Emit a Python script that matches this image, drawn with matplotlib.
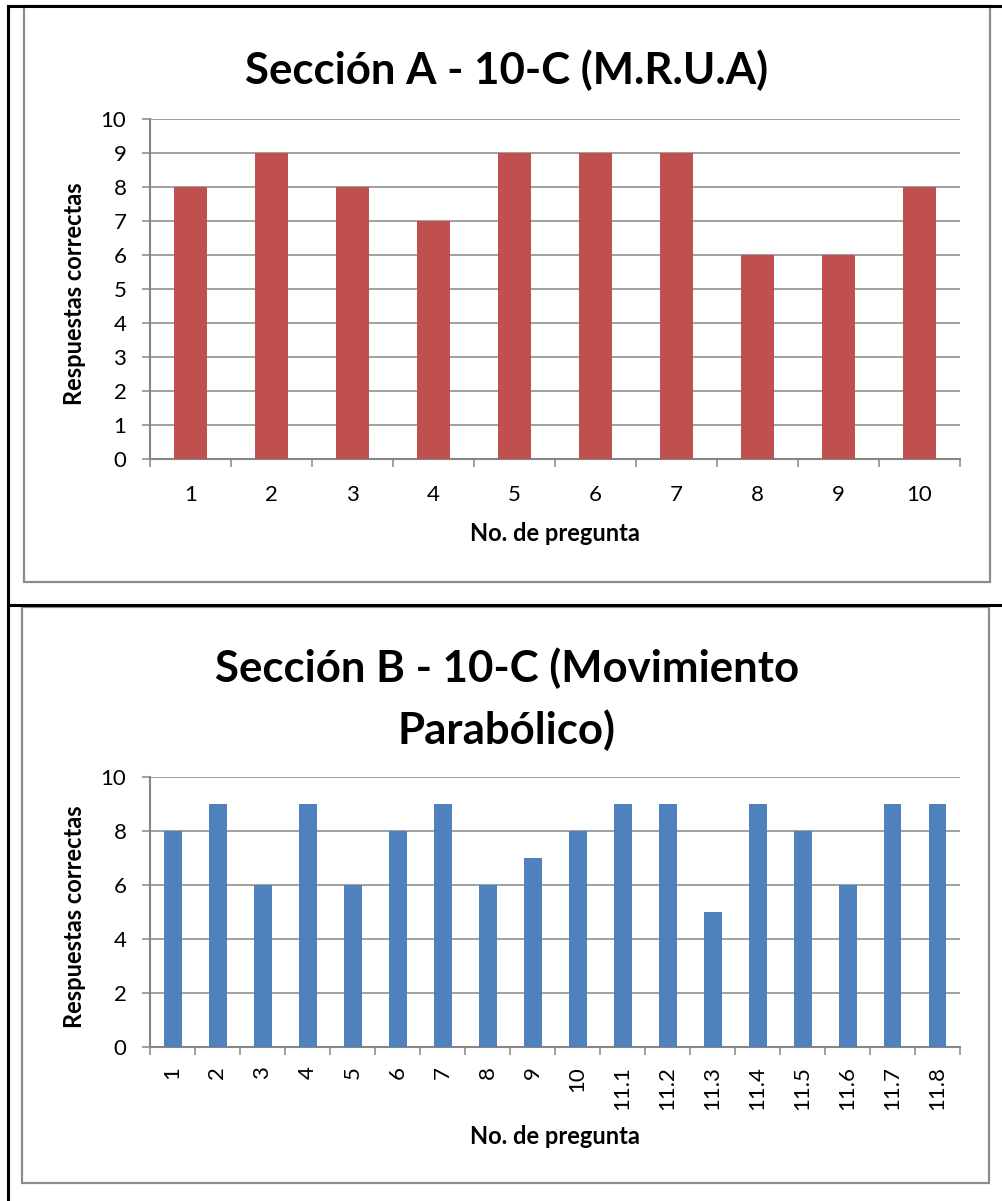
from matplotlib import pyplot as plt
from matplotlib.lines import Line2D
from matplotlib.patches import Rectangle

W, H = 1003, 1201

preguntas_a = ['1', '2', '3', '4', '5', '6', '7', '8', '9', '10']
correctas_a = [8, 9, 8, 7, 9, 9, 9, 6, 6, 8]

preguntas_b = ['1', '2', '3', '4', '5', '6', '7', '8', '9', '10',
               '11.1', '11.2', '11.3', '11.4', '11.5', '11.6', '11.7', '11.8']
correctas_b = [8, 9, 6, 9, 6, 8, 9, 6, 7, 8, 9, 9, 5, 9, 8, 6, 9, 9]

ROJO = '#C0504D'
AZUL = '#4F81BD'
GRIS = '#868686'

plt.rcParams['font.family'] = ['Lato', 'DejaVu Sans']


def px(x, y):
    # pixel coords (top-left origin) -> figure fraction
    return x / W, 1 - y / H


def add_box(fig, x0, y0, x1, y1):
    fig.patches.append(Rectangle(px(x0, y1), (x1 - x0) / W, (y1 - y0) / H,
                                 transform=fig.transFigure, fill=False,
                                 edgecolor='#8C8C8C', linewidth=1.6))


def hline(fig, x0, x1, y, color='black', lw=2):
    a, b = px(x0, y)
    c, _ = px(x1, y)
    fig.lines.append(Line2D([a, c], [b, b], transform=fig.transFigure, color=color, linewidth=lw))


def vline(fig, x, y0, y1, color='black', lw=2):
    a, b = px(x, y0)
    _, d = px(x, y1)
    fig.lines.append(Line2D([a, a], [b, d], transform=fig.transFigure, color=color, linewidth=lw))


def bar_chart(fig, rect, names, values, color, yticks, rotate):
    left, top, right, bottom = rect
    ax = fig.add_axes([left / W, 1 - bottom / H, (right - left) / W, (bottom - top) / H])
    n = len(names)
    pos = list(range(n))
    ax.bar(pos, values, width=0.4, color=color, zorder=3)
    ax.set_xlim(-0.5, n - 0.5)
    ax.set_ylim(0, yticks[-1])
    ax.set_yticks(yticks)
    ax.grid(axis='y', color=GRIS, linewidth=1.1, zorder=0)
    for s in ['top', 'right']:
        ax.spines[s].set_visible(False)
    for s in ['left', 'bottom']:
        ax.spines[s].set_color(GRIS)
        ax.spines[s].set_linewidth(1.5)
    ax.tick_params(axis='y', length=6, width=1.1, color=GRIS, pad=11, labelsize=16)
    ax.set_xticks(pos)
    ax.set_xticklabels(names, rotation=90 if rotate else 0)
    ax.tick_params(axis='x', which='major', length=0, pad=19 if not rotate else 14, labelsize=16)
    ax.set_xticks([k - 0.5 for k in range(n + 1)], minor=True)
    ax.tick_params(axis='x', which='minor', length=6, width=1.1, color=GRIS)
    return ax


fig = plt.figure(figsize=(W / 100, H / 100), dpi=100)

# page table lines
hline(fig, 8, W, 6, lw=2.2)
vline(fig, 8, 6, H, lw=2.2)
hline(fig, 8, W, 605, lw=2.2)

# chart frames
add_box(fig, 24, 6, 990, 582)
add_box(fig, 22, 607, 989, 1183)

# Sección A
bar_chart(fig, (150, 119, 960, 459), preguntas_a, correctas_a, ROJO, list(range(0, 11)), False)
fig.text(*px(507, 70), 'Sección A - 10-C (M.R.U.A)', ha='center', va='center',
         fontsize=31.5, fontweight='bold')
fig.text(*px(75, 294), 'Respuestas correctas', ha='center', va='center',
         rotation=90, fontsize=17, fontweight='bold')
fig.text(*px(555, 533), 'No. de pregunta', ha='center', va='center',
         fontsize=17, fontweight='bold')

# Sección B
bar_chart(fig, (150, 777, 960, 1047), preguntas_b, correctas_b, AZUL, list(range(0, 11, 2)), True)
fig.text(*px(507, 668), 'Sección B - 10-C (Movimiento', ha='center', va='center',
         fontsize=31.5, fontweight='bold')
fig.text(*px(507, 730), 'Parabólico)', ha='center', va='center',
         fontsize=31.5, fontweight='bold')
fig.text(*px(75, 917), 'Respuestas correctas', ha='center', va='center',
         rotation=90, fontsize=17, fontweight='bold')
fig.text(*px(555, 1137), 'No. de pregunta', ha='center', va='center',
         fontsize=17, fontweight='bold')

fig.savefig('out.png', dpi=100)
